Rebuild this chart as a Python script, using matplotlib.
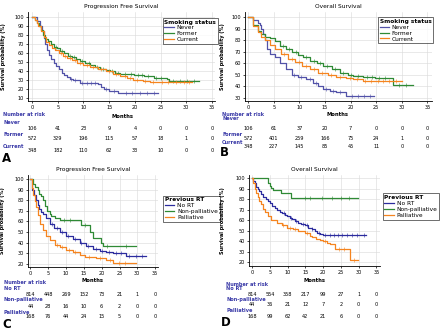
import numpy as np
import matplotlib
matplotlib.use("Agg")
from matplotlib import pyplot as plt
from matplotlib import transforms

W, H = 440, 331

BLUE = "#5252a8"
DARKBLUE = "#2b2b9e"
GREEN = "#2f8a35"
ORANGE = "#f5841f"
LABEL_BLUE = "#3b3ba8"

month_ticks = [0, 5, 10, 15, 20, 25, 30, 35]

# ---------- A: progression free survival, smoking status ----------
a_never_t = [0, 1.0, 1.6, 2.0, 2.3, 2.6, 2.9, 3.3, 3.7, 4.2, 4.7, 5.2, 5.8, 6.3, 6.8, 7.3, 8.0, 9.4, 12.8, 13.4, 14.0, 15.0, 16.8, 24.6]
a_never_s = [100, 96, 90, 84, 77, 70, 63, 58, 53, 49, 45, 42, 38, 35, 33, 31, 30, 27, 25, 22, 20, 18, 15, 15]
a_never_c = [7.6, 8.4, 9.8, 10.6, 11.5, 12.2, 14.3, 16.0, 18.2, 19.5, 21.0, 22.4, 23.8]

a_former_t = [0, 0.5, 1.0, 1.3, 1.7, 2.1, 2.6, 3.1, 3.6, 4.2, 4.9, 5.5, 6.2, 7.0, 7.8, 8.6, 9.4, 10.3, 11.3, 12.3, 13.3, 14.3, 15.2, 16.2, 17.2, 18.5, 19.8, 21.7, 23.7, 26.2, 26.6, 32.4]
a_former_s = [100, 97, 93, 90, 85, 80, 76, 73, 70, 67, 65, 62, 60, 57, 55, 53, 51, 49, 46, 44, 42, 41, 40, 38, 37, 36, 35, 34, 32, 31, 29, 29]
a_former_c = [4.6, 5.9, 7.3, 8.1, 9.7, 11.0, 12.6, 13.8, 15.6, 16.8, 18.0, 19.2, 20.6, 21.3, 22.5, 24.1, 25.0, 27.4, 28.8, 30.1, 31.5]

a_current_t = [0, 0.5, 1.0, 1.2, 1.7, 2.3, 2.8, 3.3, 3.8, 4.5, 5.2, 6.0, 6.8, 7.8, 8.8, 10.0, 11.3, 12.8, 14.3, 15.8, 17.2, 18.5, 19.7, 21.5, 23.0, 31.1]
a_current_s = [100, 97, 93, 90, 84, 78, 72, 69, 66, 63, 60, 57, 54, 52, 49, 46, 44, 42, 40, 37, 34, 32, 30, 29, 28, 28]
a_current_c = [5.6, 6.4, 7.4, 8.3, 9.3, 10.6, 11.8, 13.5, 15.0, 16.4, 18.0, 19.0, 20.4, 22.0, 23.6, 25.2, 26.5, 28.0, 29.6, 30.6]

a_risk_never = [106, 41, 23, 9, 4, 0, 0, 0]
a_risk_former = [572, 329, 196, 115, 57, 18, 1, 0]
a_risk_current = [348, 182, 110, 62, 33, 10, 0, 0]

# ---------- B: overall survival, smoking status ----------
b_never_t = [0, 1.0, 1.9, 2.3, 2.6, 2.9, 3.3, 3.6, 4.2, 5.2, 6.2, 7.5, 8.5, 9.8, 11.4, 12.7, 13.7, 14.7, 16.0, 17.2, 19.2, 24.6]
b_never_s = [100, 97, 95, 93, 90, 85, 80, 72, 68, 65, 60, 55, 50, 48, 46, 43, 40, 38, 36, 35, 32, 32]
b_never_c = [8.9, 10.4, 12.0, 13.2, 15.2, 16.6, 18.0, 20.2, 21.4, 22.6, 23.8]

b_former_t = [0, 1.0, 2.0, 2.6, 3.3, 4.2, 5.2, 6.2, 7.5, 8.5, 9.8, 10.8, 12.1, 13.4, 14.7, 16.3, 17.9, 19.5, 20.5, 22.5, 24.8, 28.2, 32.2]
b_former_s = [100, 93, 88, 85, 83, 82, 79, 75, 72, 70, 67, 65, 62, 60, 58, 55, 52, 50, 49, 48, 47, 41, 41]
b_former_c = [6.8, 8.0, 9.3, 11.4, 12.8, 14.1, 15.5, 17.0, 18.6, 20.0, 21.4, 23.2, 24.2, 25.6, 26.8, 29.5, 30.8]

b_current_t = [0, 1.0, 2.0, 2.6, 3.3, 4.2, 5.2, 6.5, 7.8, 9.2, 10.5, 12.1, 13.7, 15.6, 17.2, 19.2, 20.5, 22.5, 30.0]
b_current_s = [100, 92, 87, 83, 80, 76, 72, 68, 64, 61, 58, 55, 52, 50, 48, 47, 46, 45, 45]
b_current_c = [7.1, 8.6, 10.0, 11.3, 12.9, 14.4, 16.2, 18.0, 19.8, 21.2, 22.9, 24.0, 25.3, 26.4, 27.6, 28.8]

b_risk_never = [106, 61, 37, 20, 7, 0, 0, 0]
b_risk_former = [572, 401, 259, 166, 75, 24, 1, 0]
b_risk_current = [348, 227, 145, 85, 45, 11, 0, 0]

# ---------- C: progression free survival, previous RT ----------
c_nort_t = [0, 0.5, 1.0, 1.5, 2.0, 2.4, 2.9, 3.4, 4.4, 5.4, 6.5, 8.2, 10.0, 11.9, 13.8, 15.7, 17.6, 19.5, 21.3, 23.2, 26.9, 32.5]
c_nort_s = [100, 90, 85, 80, 76, 72, 69, 67, 63, 58, 54, 50, 46, 43, 40, 37, 34, 32, 31, 30, 27, 27]
c_nort_c = [6.0, 7.4, 8.8, 10.5, 12.4, 14.2, 16.1, 18.3, 20.0, 22.0, 23.9, 25.4, 27.8, 29.5, 31.2]

c_nonpall_t = [0, 0.7, 1.2, 2.0, 2.5, 3.1, 3.5, 4.2, 4.8, 5.4, 5.9, 6.8, 8.2, 14.3, 16.6, 17.6, 19.9, 20.4, 29.7]
c_nonpall_s = [100, 95, 93, 90, 86, 84, 80, 75, 70, 67, 65, 63, 61, 57, 50, 44, 40, 37, 37]
c_nonpall_c = [9.5, 11.0, 15.2, 21.5, 26.8]

c_pall_t = [0, 0.4, 0.75, 1.2, 1.6, 2.1, 2.8, 3.6, 4.4, 5.4, 6.8, 8.2, 10.0, 11.9, 13.8, 15.2, 18.5, 21.3, 23.2, 29.7]
c_pall_s = [100, 92, 85, 79, 74, 66, 58, 52, 46, 42, 38, 36, 33, 31, 28, 26, 25, 23, 21, 21]
c_pall_c = [7.4, 9.0, 10.8, 12.6, 16.4, 19.6, 22.2, 24.8, 26.6]

c_risk_nort = [814, 448, 269, 152, 73, 21, 1, 0]
c_risk_nonpall = [44, 28, 16, 10, 6, 2, 0, 0]
c_risk_pall = [168, 76, 44, 24, 15, 5, 0, 0]

# ---------- D: overall survival, previous RT ----------
d_nort_t = [0, 0.4, 0.75, 1.2, 1.7, 2.1, 2.6, 3.2, 3.85, 4.4, 5.0, 5.7, 6.4, 7.1, 7.8, 8.5, 9.2, 9.9, 10.6, 11.3, 12.0, 13.0, 13.9, 14.8, 15.8, 16.8, 17.7, 18.4, 19.1, 20.0, 32.2]
d_nort_s = [100, 97, 95, 92, 90, 88, 85, 82, 80, 78, 76, 74, 72, 70, 68, 67, 65, 64, 62, 61, 59, 57, 56, 55, 53, 52, 50, 48, 47, 45.5, 45.5]
d_nort_c = [9.0, 10.9, 12.5, 14.2, 15.4, 17.0, 18.8, 20.6, 21.8, 23.0, 24.2, 25.4, 26.6, 28.0, 29.6, 31.4]

d_nonpall_t = [0, 4.5, 5.0, 5.4, 5.9, 8.2, 11.1, 29.9]
d_nonpall_s = [100, 95, 93, 91, 89, 86, 81, 81]
d_nonpall_c = [14.8, 16.2, 19.8, 22.4, 25.0, 27.2]

d_pall_t = [0, 0.3, 0.75, 1.2, 1.7, 2.1, 2.6, 3.1, 3.6, 4.4, 5.4, 6.9, 8.3, 9.7, 11.6, 13.0, 14.9, 16.2, 17.0, 18.1, 19.1, 20.0, 21.0, 21.9, 23.3, 27.5, 29.9]
d_pall_s = [100, 95, 90, 86, 82, 78, 75, 71, 68, 64, 60, 57, 55, 53, 52, 50, 48, 45, 44, 42, 41, 40, 38, 37, 33, 22, 22]
d_pall_c = [8.8, 10.6, 12.2, 15.5, 20.5, 24.6, 26.0, 28.6]

d_risk_nort = [814, 554, 358, 217, 99, 27, 1, 0]
d_risk_nonpall = [44, 36, 21, 12, 7, 2, 0, 0]
d_risk_pall = [168, 99, 62, 42, 21, 6, 0, 0]


def step_at(t, s, x):
    idx = np.searchsorted(np.asarray(t), np.asarray(x), side="right") - 1
    return np.asarray(s)[idx]


def add_axes_px(fig, left, top, right, bottom):
    return fig.add_axes([left / W, 1 - bottom / H, (right - left) / W, (bottom - top) / H])


def draw_panel(fig, p):
    ax = add_axes_px(fig, *p["box"])
    for name, t, s, c, color in p["curves"]:
        ax.plot(t, s, drawstyle="steps-post", color=color, lw=0.9, label=name)
        ax.plot(c, step_at(t, s, c), ls="none", marker="|", ms=2.2, mew=0.4, color=color)
    ax.set_xlim(p["xlim"])
    ax.set_ylim(p["ylim"])
    ax.set_xticks(month_ticks)
    ax.set_yticks(p["yticks"])
    ax.grid(color="#d9d9d9", lw=0.4)
    ax.set_axisbelow(True)
    for side in ["top", "right"]:
        ax.spines[side].set_visible(False)
    for side in ["left", "bottom"]:
        ax.spines[side].set_linewidth(0.6)
    ax.tick_params(labelsize=3.6, length=1.5, width=0.5, pad=1.2)
    ax.set_title(p["title"], fontsize=4.2, pad=3)
    ax.set_ylabel("Survival probability (%)", fontsize=3.6, fontweight="bold")
    ax.yaxis.set_label_coords(p["ylabel_x"], 0.5)

    leg = ax.legend(loc="upper left", bbox_to_anchor=p["legend_at"], title=p["legend_title"],
                    fontsize=4.2, title_fontsize=4.2, frameon=True, fancybox=False,
                    handlelength=1.6, handletextpad=0.5, borderpad=0.3, labelspacing=0.15,
                    borderaxespad=0)
    leg.get_title().set_fontweight("bold")
    leg._legend_box.align = "left"
    leg.get_frame().set_edgecolor("black")
    leg.get_frame().set_linewidth(0.5)

    # number at risk table
    trans = transforms.blended_transform_factory(ax.transData, fig.transFigure)
    fy = lambda y: 1 - y / H
    ax.text(17.5, fy(p["months_y"]), "Months", transform=trans, fontsize=3.8,
            ha="center", va="center", fontweight="bold")
    lx = p["label_x"] / W
    fig.text(lx, fy(p["nar_y"]), "Number at risk", fontsize=3.6, color=LABEL_BLUE,
             fontweight="bold", va="center")
    for (name, values), ly, vy in zip(p["risk"], p["label_ys"], p["value_ys"]):
        fig.text(lx, fy(ly), name, fontsize=3.6, color=LABEL_BLUE, fontweight="bold", va="center")
        for m, v in zip(month_ticks, values):
            ax.text(m, fy(vy), str(v), transform=trans, fontsize=3.6, ha="center", va="center")
    fig.text(p["letter"][1] / W, fy(p["letter"][2]), p["letter"][0], fontsize=8.5,
             fontweight="bold", va="center")
    return ax


def main():
    fig = plt.figure(figsize=(W / 100, H / 100), dpi=100)

    panels = [
        dict(box=(28, 12, 215, 101), xlim=(-0.8, 35.6), ylim=(6.5, 105.5),
             yticks=list(range(10, 101, 10)), title="Progression Free Survival",
             curves=[("Never", a_never_t, a_never_s, a_never_c, BLUE),
                     ("Former", a_former_t, a_former_s, a_former_c, GREEN),
                     ("Current", a_current_t, a_current_s, a_current_c, ORANGE)],
             legend_title="Smoking status", legend_at=(0.72, 0.935), ylabel_x=-0.12,
             risk=[("Never", a_risk_never), ("Former", a_risk_former), ("Current", a_risk_current)],
             label_x=3, months_y=116, nar_y=115, label_ys=[122, 134, 146], value_ys=[129, 139, 151],
             letter=("A", 2, 159)),
        dict(box=(245, 12, 432, 101), xlim=(-0.6, 35.9), ylim=(27.4, 104.3),
             yticks=list(range(30, 101, 10)), title="Overall Survival",
             curves=[("Never", b_never_t, b_never_s, b_never_c, BLUE),
                     ("Former", b_former_t, b_former_s, b_former_c, GREEN),
                     ("Current", b_current_t, b_current_s, b_current_c, ORANGE)],
             legend_title="Smoking status", legend_at=(0.71, 0.945), ylabel_x=-0.105,
             risk=[("Never", b_risk_never), ("Former", b_risk_former), ("Current", b_risk_current)],
             label_x=222, months_y=115, nar_y=114, label_ys=[119, 134, 142], value_ys=[129, 139, 147],
             letter=("B", 220, 153)),
        dict(box=(28, 175, 158, 267), xlim=(-0.67, 35.8), ylim=(16.8, 104),
             yticks=list(range(20, 101, 10)), title="Progression Free Survival",
             curves=[("No RT", c_nort_t, c_nort_s, c_nort_c, DARKBLUE),
                     ("Non-palliative", c_nonpall_t, c_nonpall_s, c_nonpall_c, GREEN),
                     ("Palliative", c_pall_t, c_pall_s, c_pall_c, ORANGE)],
             legend_title="Previous RT", legend_at=(1.04, 0.775), ylabel_x=-0.175,
             risk=[("No RT", c_risk_nort), ("Non-palliative", c_risk_nonpall), ("Palliative", c_risk_pall)],
             label_x=4, months_y=280, nar_y=283, label_ys=[288, 299, 312], value_ys=[294, 307, 317],
             letter=("C", 2, 324)),
        dict(box=(249, 175, 380, 266), xlim=(-0.85, 36), ylim=(16.5, 103),
             yticks=list(range(20, 101, 10)), title="Overall Survival",
             curves=[("No RT", d_nort_t, d_nort_s, d_nort_c, DARKBLUE),
                     ("Non-palliative", d_nonpall_t, d_nonpall_s, d_nonpall_c, GREEN),
                     ("Palliative", d_pall_t, d_pall_s, d_pall_c, ORANGE)],
             legend_title="Previous RT", legend_at=(1.02, 0.80), ylabel_x=-0.18,
             risk=[("No RT", d_risk_nort), ("Non-palliative", d_risk_nonpall), ("Palliative", d_risk_pall)],
             label_x=226, months_y=280, nar_y=284, label_ys=[288, 299, 310], value_ys=[294, 305, 316],
             letter=("D", 221, 323)),
    ]
    for p in panels:
        draw_panel(fig, p)

    fig.savefig("out.png", dpi=100, facecolor="white")


if __name__ == "__main__":
    main()
